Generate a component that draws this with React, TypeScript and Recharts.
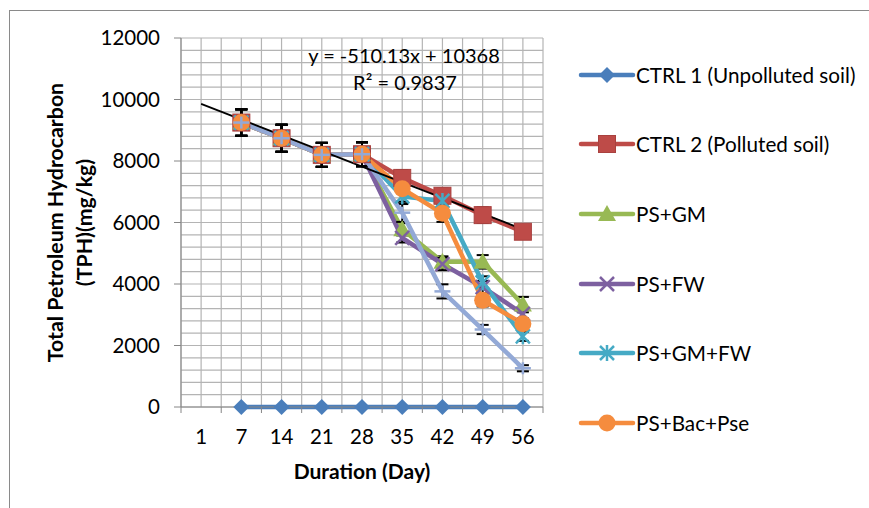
import { LineChart, Line, XAxis, YAxis, CartesianGrid, ErrorBar } from 'recharts';

// Sampling days (category axis)
const days = [1, 7, 14, 21, 28, 35, 42, 49, 56];

// TPH values (mg/kg), null where nothing is plotted
const ctrl1 = [null, 0, 0, 0, 0, 0, 0, 0, 0];
const ctrl2 = [null, 9250, 8740, 8200, 8220, 7450, 6870, 6240, 5700];
const psGm = [null, 9250, 8740, 8200, 8220, 5780, 4720, 4720, 3330];
const psFw = [null, 9250, 8740, 8200, 8220, 5500, 4650, 3900, 3030];
const psGmFw = [null, 9250, 8740, 8200, 8220, 6850, 6700, 4050, 2300];
const psBacPse = [null, 9250, 8740, 8200, 8220, 7100, 6300, 3470, 2710];
const extra = [null, 9250, 8740, 8200, 8220, 6320, 3760, 2520, 1260];

// error bar half-heights
const ctrl2Err = [null, 430, 440, 390, 390, 250, 230, 250, 100];
const psGmErr = [null, 430, 440, 390, 390, 200, 180, 220, 250];
const psFwErr = [null, 430, 440, 390, 390, 150, 200, 200, 150];
const psGmFwErr = [null, 430, 440, 390, 390, 250, 250, 200, 150];
const psBacPseErr = [null, 430, 440, 390, 390, 420, 280, 200, 150];
const extraErr = [null, 430, 440, 390, 390, 300, 230, 150, 100];

// linear trend end points (day 1 and day 56)
const trend = [9858, null, null, null, null, null, null, null, 5777];

const yTicks = Array.from({ length: 31 }, (_, i) => i * 400);
const xTicks = Array.from({ length: 19 }, (_, i) => 0.5 + i * 0.5);

const FONT = "Lato, 'Open Sans', sans-serif";

type Shape = 'diamond' | 'square' | 'triangle' | 'x' | 'star' | 'circle' | 'plus';

const series: { key: string; name: string; color: string; shape: Shape; values: (number | null)[]; err?: (number | null)[] }[] = [
  { key: 'ctrl1', name: 'CTRL 1 (Unpolluted soil)', color: '#4a7ebb', shape: 'diamond', values: ctrl1 },
  { key: 'ctrl2', name: 'CTRL 2 (Polluted soil)', color: '#be4b48', shape: 'square', values: ctrl2, err: ctrl2Err },
  { key: 'psGm', name: 'PS+GM', color: '#98b954', shape: 'triangle', values: psGm, err: psGmErr },
  { key: 'psFw', name: 'PS+FW', color: '#7d60a0', shape: 'x', values: psFw, err: psFwErr },
  { key: 'psGmFw', name: 'PS+GM+FW', color: '#46aac5', shape: 'star', values: psGmFw, err: psGmFwErr },
  { key: 'psBacPse', name: 'PS+Bac+Pse', color: '#f58c3e', shape: 'circle', values: psBacPse, err: psBacPseErr },
  { key: 'extra', name: '', color: '#93a9d6', shape: 'plus', values: extra, err: extraErr },
];

const data = days.map((d, i) => {
  const row: Record<string, number | null> = { idx: i + 1, day: d, trend: trend[i] };
  series.forEach((s) => {
    row[s.key] = s.values[i];
    row[s.key + 'Err'] = s.err ? s.err[i] : null;
  });
  return row;
});

function Marker({ cx, cy, shape, color }: { cx: number; cy: number; shape: Shape; color: string }) {
  switch (shape) {
    case 'diamond':
      return <polygon points={`${cx},${cy - 8} ${cx + 8},${cy} ${cx},${cy + 8} ${cx - 8},${cy}`} fill={color} />;
    case 'square':
      return <rect x={cx - 8.5} y={cy - 8.5} width={17} height={17} fill={color} stroke="#a9413f" strokeWidth={1} />;
    case 'triangle':
      return <polygon points={`${cx},${cy - 9} ${cx + 9},${cy + 7} ${cx - 9},${cy + 7}`} fill={color} />;
    case 'x':
      return (
        <g stroke={color} strokeWidth={2.5}>
          <line x1={cx - 7} y1={cy - 7} x2={cx + 7} y2={cy + 7} />
          <line x1={cx - 7} y1={cy + 7} x2={cx + 7} y2={cy - 7} />
        </g>
      );
    case 'star':
      return (
        <g stroke={color} strokeWidth={2.5}>
          <line x1={cx - 7} y1={cy - 7} x2={cx + 7} y2={cy + 7} />
          <line x1={cx - 7} y1={cy + 7} x2={cx + 7} y2={cy - 7} />
          <line x1={cx} y1={cy - 8} x2={cx} y2={cy + 8} />
        </g>
      );
    case 'circle':
      return <circle cx={cx} cy={cy} r={8.5} fill={color} />;
    case 'plus':
      return (
        <g stroke={color} strokeWidth={2.5}>
          <line x1={cx - 8} y1={cy} x2={cx + 8} y2={cy} />
          <line x1={cx} y1={cy - 6} x2={cx} y2={cy + 6} />
        </g>
      );
  }
  return null;
}

function XTick(props: any) {
  const { x, y, payload } = props;
  const v = payload.value;
  if (Number.isInteger(v)) {
    return (
      <text x={x} y={y + 37} textAnchor="middle" fontSize={20.5} fontFamily={FONT} fill="#000">
        {days[v - 1]}
      </text>
    );
  }
  return <line x1={x} x2={x} y1={y} y2={y + 6} stroke="#868686" />;
}

function YTick(props: any) {
  const { x, y, payload } = props;
  const v = payload.value;
  if (v % 2000 !== 0) return <g />;
  return (
    <g>
      <line x1={x - 7} x2={x} y1={y} y2={y} stroke="#868686" />
      <text x={x - 21} y={y + 7} textAnchor="end" fontSize={20.5} fontFamily={FONT} fill="#000">
        {v}
      </text>
    </g>
  );
}

function YTitle(props: any) {
  const vb = props.viewBox || { x: 0, y: 38, width: 181, height: 369 };
  const cy = vb.y + vb.height / 2;
  const lines = [
    { x: 55, t: 'Total Petroleum Hydrocarbon' },
    { x: 84, t: '(TPH)(mg/kg)' },
  ];
  return (
    <g>
      {lines.map((l) => (
        <text
          key={l.t}
          x={l.x}
          y={cy}
          transform={`rotate(-90, ${l.x}, ${cy})`}
          textAnchor="middle"
          dominantBaseline="central"
          fontSize={21.3}
          fontWeight="bold"
          fontFamily={FONT}
          fill="#000"
        >
          {l.t}
        </text>
      ))}
    </g>
  );
}

function XTitle(props: any) {
  const vb = props.viewBox || { x: 181, y: 407, width: 362, height: 101 };
  return (
    <text
      x={vb.x + vb.width / 2}
      y={vb.y + 63}
      textAnchor="middle"
      dominantBaseline="central"
      fontSize={21}
      fontWeight="bold"
      fontFamily={FONT}
      fill="#000"
    >
      Duration (Day)
    </text>
  );
}

function LegendBox() {
  return (
    <div style={{ position: 'absolute', left: 578, top: 40, fontFamily: FONT, fontSize: 20.7 }}>
      {series
        .filter((s) => s.name)
        .map((s) => (
          <div key={s.key} style={{ display: 'flex', alignItems: 'center', height: 69.6, marginTop: 0 }}>
            <svg width={58} height={24} style={{ display: 'block' }}>
              <line x1={3} x2={55} y1={12} y2={12} stroke={s.color} strokeWidth={4.5} strokeLinecap="round" />
              <Marker cx={29} cy={12} shape={s.shape} color={s.color} />
            </svg>
            <span style={{ whiteSpace: 'nowrap' }}>{s.name}</span>
          </div>
        ))}
    </div>
  );
}

export default function App() {
  return (
    <div style={{ position: 'absolute', left: 0, top: 0, width: 869, height: 508, background: '#fff' }}>
      <div
        style={{
          position: 'absolute',
          left: 9,
          top: 10,
          right: 0,
          bottom: 0,
          borderTop: '1px solid #8a8a8a',
          borderLeft: '1px solid #8a8a8a',
        }}
      />
      <LineChart width={869} height={508} data={data} margin={{ top: 38, right: 326, bottom: 0, left: 0 }}>
        <CartesianGrid stroke="#b4b4b4" strokeWidth={1.2} />
        <XAxis
          dataKey="idx"
          type="number"
          domain={[0.5, 9.5]}
          ticks={xTicks}
          interval={0}
          height={101}
          tickSize={0}
          tickMargin={0}
          tickLine={false}
          tick={<XTick />}
          stroke="#868686"
          label={<XTitle />}
        />
        <YAxis
          type="number"
          domain={[0, 12000]}
          ticks={yTicks}
          interval={0}
          width={181}
          tickSize={0}
          tickMargin={0}
          tickLine={false}
          tick={<YTick />}
          stroke="#868686"
          label={<YTitle />}
        />
        {series.map((s) => (
          <Line
            key={s.key}
            dataKey={s.key}
            name={s.name}
            type="linear"
            stroke={s.color}
            strokeWidth={4.5}
            isAnimationActive={false}
            activeDot={false}
            legendType={s.name ? 'line' : 'none'}
            dot={(p: any) =>
              p.cx == null || p.cy == null || p.value == null ? (
                <g key={`${s.key}-${p.index}`} />
              ) : (
                <Marker key={`${s.key}-${p.index}`} cx={p.cx} cy={p.cy} shape={s.shape} color={s.color} />
              )
            }
          >
            {s.err && <ErrorBar dataKey={s.key + 'Err'} width={6} strokeWidth={2} stroke="#000" direction="y" />}
          </Line>
        ))}
        <Line
          dataKey="trend"
          type="linear"
          stroke="#000"
          strokeWidth={1.8}
          dot={false}
          activeDot={false}
          connectNulls
          legendType="none"
          isAnimationActive={false}
        />
      </LineChart>
      <div
        style={{
          position: 'absolute',
          left: 404,
          top: 55,
          transform: 'translate(-50%, -50%)',
          fontFamily: FONT,
          fontSize: 20,
          whiteSpace: 'nowrap',
        }}
      >
        y = -510.13x + 10368
      </div>
      <div
        style={{
          position: 'absolute',
          left: 405,
          top: 82,
          transform: 'translate(-50%, -50%)',
          fontFamily: FONT,
          fontSize: 20,
          whiteSpace: 'nowrap',
        }}
      >
        R² = 0.9837
      </div>
      <LegendBox />
    </div>
  );
}
